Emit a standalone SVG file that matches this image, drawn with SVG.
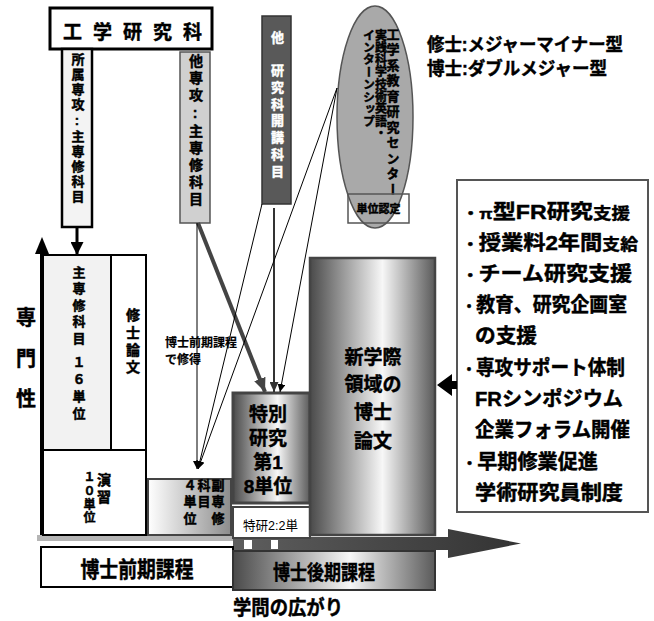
<svg xmlns="http://www.w3.org/2000/svg" width="654" height="621" viewBox="0 0 654 621">
<defs>
<style>
text{font-family:'Liberation Sans','Noto Sans CJK JP',sans-serif;font-weight:bold;fill:#000;stroke:#000;stroke-width:0.45}
.v{writing-mode:vertical-rl;text-orientation:upright}
.w{fill:#fff;stroke:#fff}
.lt{font-weight:normal;stroke:none}
.thin{stroke:#000;stroke-width:1;fill:none}
.rb{font-size:20px}
</style>
<linearGradient id="cyl" x1="0" y1="0" x2="1" y2="0">
<stop offset="0" stop-color="#4a4a4a"/><stop offset="0.58" stop-color="#f7f7f7"/><stop offset="1" stop-color="#5a5a5a"/>
</linearGradient>
<linearGradient id="fade" x1="0" y1="0" x2="1" y2="0"><stop offset="0" stop-color="#ffffff"/><stop offset="1" stop-color="#8c8c8c"/></linearGradient>
<linearGradient id="bar" x1="0" y1="0" x2="1" y2="0"><stop offset="0" stop-color="#5e5e5e"/><stop offset="1" stop-color="#333333"/></linearGradient>
<marker id="ah" markerWidth="8" markerHeight="8" refX="8" refY="4" orient="auto" markerUnits="userSpaceOnUse"><path d="M0,0 L8,4 L0,8 z" fill="#000"/></marker>
<marker id="ahd" markerWidth="10" markerHeight="9" refX="10" refY="4.5" orient="auto" markerUnits="userSpaceOnUse"><path d="M0,0 L10,4.5 L0,9 z" fill="#333"/></marker>
<marker id="ahg" markerWidth="14" markerHeight="12" refX="14" refY="6" orient="auto" markerUnits="userSpaceOnUse"><path d="M0,0 L14,6 L0,12 z" fill="#444"/></marker>
<marker id="ahb" markerWidth="13" markerHeight="13" refX="13" refY="6.5" orient="auto" markerUnits="userSpaceOnUse"><path d="M0,0 L13,6.5 L0,13 z" fill="#000"/></marker>
</defs>
<rect width="654" height="621" fill="#fff"/>

<g id="timeline">
<rect x="37" y="535" width="200" height="6" fill="#b5b5b5"/>
<path d="M233,537 H448 V529 L521,543.5 L448,558 V550 H233 Z" fill="url(#bar)"/>
<polygon points="233,528 246,537 233,537" fill="#c8c8c8"/>
<rect x="244" y="540" width="8" height="9" fill="#fff"/>
<rect x="271" y="540" width="7" height="9" fill="#fff"/>
</g>

<g id="n-kogaku">
<rect x="50" y="8" width="162" height="41" fill="#fff" stroke="#000" stroke-width="3"/>
<text x="138" y="39" font-size="19" text-anchor="middle" letter-spacing="11">工学研究科</text>
</g>

<g id="n-shozoku">
<rect x="62" y="49" width="30" height="178" fill="#f3f3f3" stroke="#000" stroke-width="2.5"/>
<text class="v" x="77" y="53" font-size="13" letter-spacing="2">所属専攻:主専修科目</text>
</g>

<g id="n-tasenko">
<rect x="180" y="52" width="30" height="171" fill="#d0d0d0" stroke="#555" stroke-width="1.5"/>
<text class="v" x="195" y="54" font-size="14" letter-spacing="3">他専攻:主専修科目</text>
</g>

<g id="n-takenkyu">
<rect x="262" y="16" width="29" height="188" fill="#595959" stroke="#333" stroke-width="1.5"/>
<text class="v w" x="276.5" y="30.5" font-size="13" letter-spacing="3.7">他　研究科開講科目</text>
</g>

<g id="n-center">
<ellipse cx="375" cy="117" rx="38" ry="111" fill="#a9a9a9" stroke="#555" stroke-width="1.5"/>
<text class="v" x="392" y="27.5" font-size="13" letter-spacing="2.5">工学系教育研究センター</text>
<text class="v" x="379.5" y="29" font-size="12" letter-spacing="0.3">実践科学技術英語・</text>
<text class="v" x="367.5" y="29" font-size="12" letter-spacing="0.4">インターンシップ</text>
<rect x="348" y="194" width="61" height="29" fill="none" stroke="#555" stroke-width="1.5"/>
<text x="378.5" y="213" font-size="11" text-anchor="middle">単位認定</text>
</g>

<g id="n-type">
<text x="427" y="51" font-size="18" textLength="196" lengthAdjust="spacingAndGlyphs">修士:メジャーマイナー型</text>
<text x="427" y="75" font-size="18" textLength="180" lengthAdjust="spacingAndGlyphs">博士:ダブルメジャー型</text>
</g>

<g id="n-senmon">
<text x="26" y="325" font-size="20" text-anchor="middle">専</text>
<text x="26" y="366" font-size="20" text-anchor="middle">門</text>
<text x="26" y="406" font-size="20" text-anchor="middle">性</text>
</g>

<g id="n-shusenshu">
<rect x="43" y="255" width="68" height="195" fill="#f2f2f2" stroke="#000" stroke-width="2"/>
<text class="v" x="78" y="265.5" font-size="13" letter-spacing="3.5">主専修科目</text>
<text class="v" x="78" y="355.5" font-size="13" letter-spacing="4">１６単位</text>
</g>

<g id="n-ronbun">
<rect x="111" y="255" width="35" height="195" fill="#fff" stroke="#000" stroke-width="2"/>
<text class="v" x="132" y="308" font-size="14" letter-spacing="3.3">修士論文</text>
</g>

<g id="n-enshu">
<rect x="43" y="450" width="103" height="85" fill="#fff" stroke="#000" stroke-width="2"/>
<text class="v" x="103" y="473" font-size="14" letter-spacing="3">演習</text>
<text class="v" x="88" y="471" font-size="12" letter-spacing="1.5">１０単位</text>
</g>

<g id="n-axis">
<line x1="42" y1="535" x2="42" y2="250" stroke="#000" stroke-width="4"/>
<polygon points="42,237 35,254 49,254" fill="#000"/>
</g>

<g id="n-fukusenshu">
<rect x="148" y="479" width="83" height="56" fill="url(#fade)" stroke="#444" stroke-width="2"/>
<text class="v" x="217" y="478.5" font-size="13" letter-spacing="3.5">副専修</text>
<text class="v" x="203" y="478.5" font-size="13" letter-spacing="3.5">科目</text>
<text class="v" x="189" y="478.5" font-size="13" letter-spacing="3.5">４単位</text>
</g>

<g id="n-label">
<text x="165" y="347" font-size="12" style="stroke-width:0.2">博士前期課程</text>
<text x="165" y="364" font-size="12" style="stroke-width:0.2">で修得</text>
</g>

<g id="n-tokubetsu">
<rect x="233" y="393" width="77" height="110" fill="url(#cyl)" stroke="#444" stroke-width="3"/>
<text x="268" y="421" font-size="19" text-anchor="middle">特別</text>
<text x="268" y="445" font-size="19" text-anchor="middle">研究</text>
<text x="268" y="469" font-size="19" text-anchor="middle">第1</text>
<text x="268" y="493" font-size="19" text-anchor="middle">8単位</text>
</g>

<g id="n-tokken">
<rect x="233" y="507" width="77" height="31" fill="#fff" stroke="#444" stroke-width="2"/>
<text class="lt" x="243" y="530" font-size="13" textLength="55" lengthAdjust="spacingAndGlyphs">特研2:2単</text>
</g>

<g id="n-hakushi">
<rect x="310" y="258" width="125" height="277" fill="url(#cyl)" stroke="#444" stroke-width="2.5"/>
<text x="373" y="364" font-size="19" text-anchor="middle">新学際</text>
<text x="373" y="391" font-size="19" text-anchor="middle">領域の</text>
<text x="373" y="419" font-size="19" text-anchor="middle">博士</text>
<text x="373" y="448" font-size="19" text-anchor="middle">論文</text>
</g>

<g id="n-support">
<rect x="457" y="180" width="191" height="332" fill="#fff" stroke="#555" stroke-width="2"/>
<text class="rb" x="462" y="219" textLength="168" lengthAdjust="spacingAndGlyphs"><tspan font-size="15">・π</tspan>型FR研究<tspan font-size="16">支援</tspan></text>
<text class="rb" x="462" y="250" textLength="176" lengthAdjust="spacingAndGlyphs"><tspan font-size="15">・</tspan>授業料2年間<tspan font-size="16">支給</tspan></text>
<text class="rb" x="462" y="281" textLength="170" lengthAdjust="spacingAndGlyphs"><tspan font-size="15">・</tspan>チーム研究支援</text>
<text class="rb" x="462" y="312" textLength="165" lengthAdjust="spacingAndGlyphs"><tspan font-size="15">・</tspan>教育、研究企画室</text>
<text class="rb" x="475" y="343" textLength="62" lengthAdjust="spacingAndGlyphs">の支援</text>
<text class="rb" x="462" y="375" textLength="163" lengthAdjust="spacingAndGlyphs"><tspan font-size="15">・</tspan>専攻サポート体制</text>
<text class="rb" x="475" y="406" textLength="148" lengthAdjust="spacingAndGlyphs">FRシンポジウム</text>
<text class="rb" x="475" y="437" textLength="155" lengthAdjust="spacingAndGlyphs">企業フォラム開催</text>
<text class="rb" x="462" y="469" textLength="136" lengthAdjust="spacingAndGlyphs"><tspan font-size="15">・</tspan>早期修業促進</text>
<text class="rb" x="475" y="500" textLength="148" lengthAdjust="spacingAndGlyphs">学術研究員制度</text>
</g>

<g id="n-zenki">
<rect x="41" y="547" width="192" height="40" fill="#fff" stroke="#000" stroke-width="2"/>
<text x="137" y="577" font-size="22" text-anchor="middle" textLength="113" lengthAdjust="spacingAndGlyphs">博士前期課程</text>
</g>

<g id="n-koki">
<rect x="233" y="551" width="202" height="39" fill="url(#cyl)" stroke="#333" stroke-width="2"/>
<text x="324" y="580" font-size="20" text-anchor="middle" textLength="102" lengthAdjust="spacingAndGlyphs">博士後期課程</text>
</g>

<g id="n-hirogari">
<text x="233" y="615" font-size="20" textLength="110" lengthAdjust="spacingAndGlyphs">学問の広がり</text>
</g>

<g id="connectors">
<line x1="77" y1="228" x2="77" y2="255" stroke="#000" stroke-width="3" marker-end="url(#ahb)"/>
<line x1="198" y1="223" x2="265" y2="392" stroke="#444" stroke-width="4" marker-end="url(#ahg)"/>
<line x1="274" y1="208" x2="274" y2="392" stroke="#333" stroke-width="2" marker-end="url(#ahd)"/>
<line class="thin" x1="337" y1="88" x2="280" y2="392" marker-end="url(#ah)"/>
<line class="thin" x1="197" y1="223" x2="197" y2="469" marker-end="url(#ah)"/>
<line class="thin" x1="262" y1="204" x2="198" y2="469" marker-end="url(#ah)"/>
<line class="thin" x1="337" y1="88" x2="198" y2="469" marker-end="url(#ah)"/>
<polygon points="437,385 452,374 452,381 457,381 457,389 452,389 452,396" fill="#000"/>
</g>
</svg>
